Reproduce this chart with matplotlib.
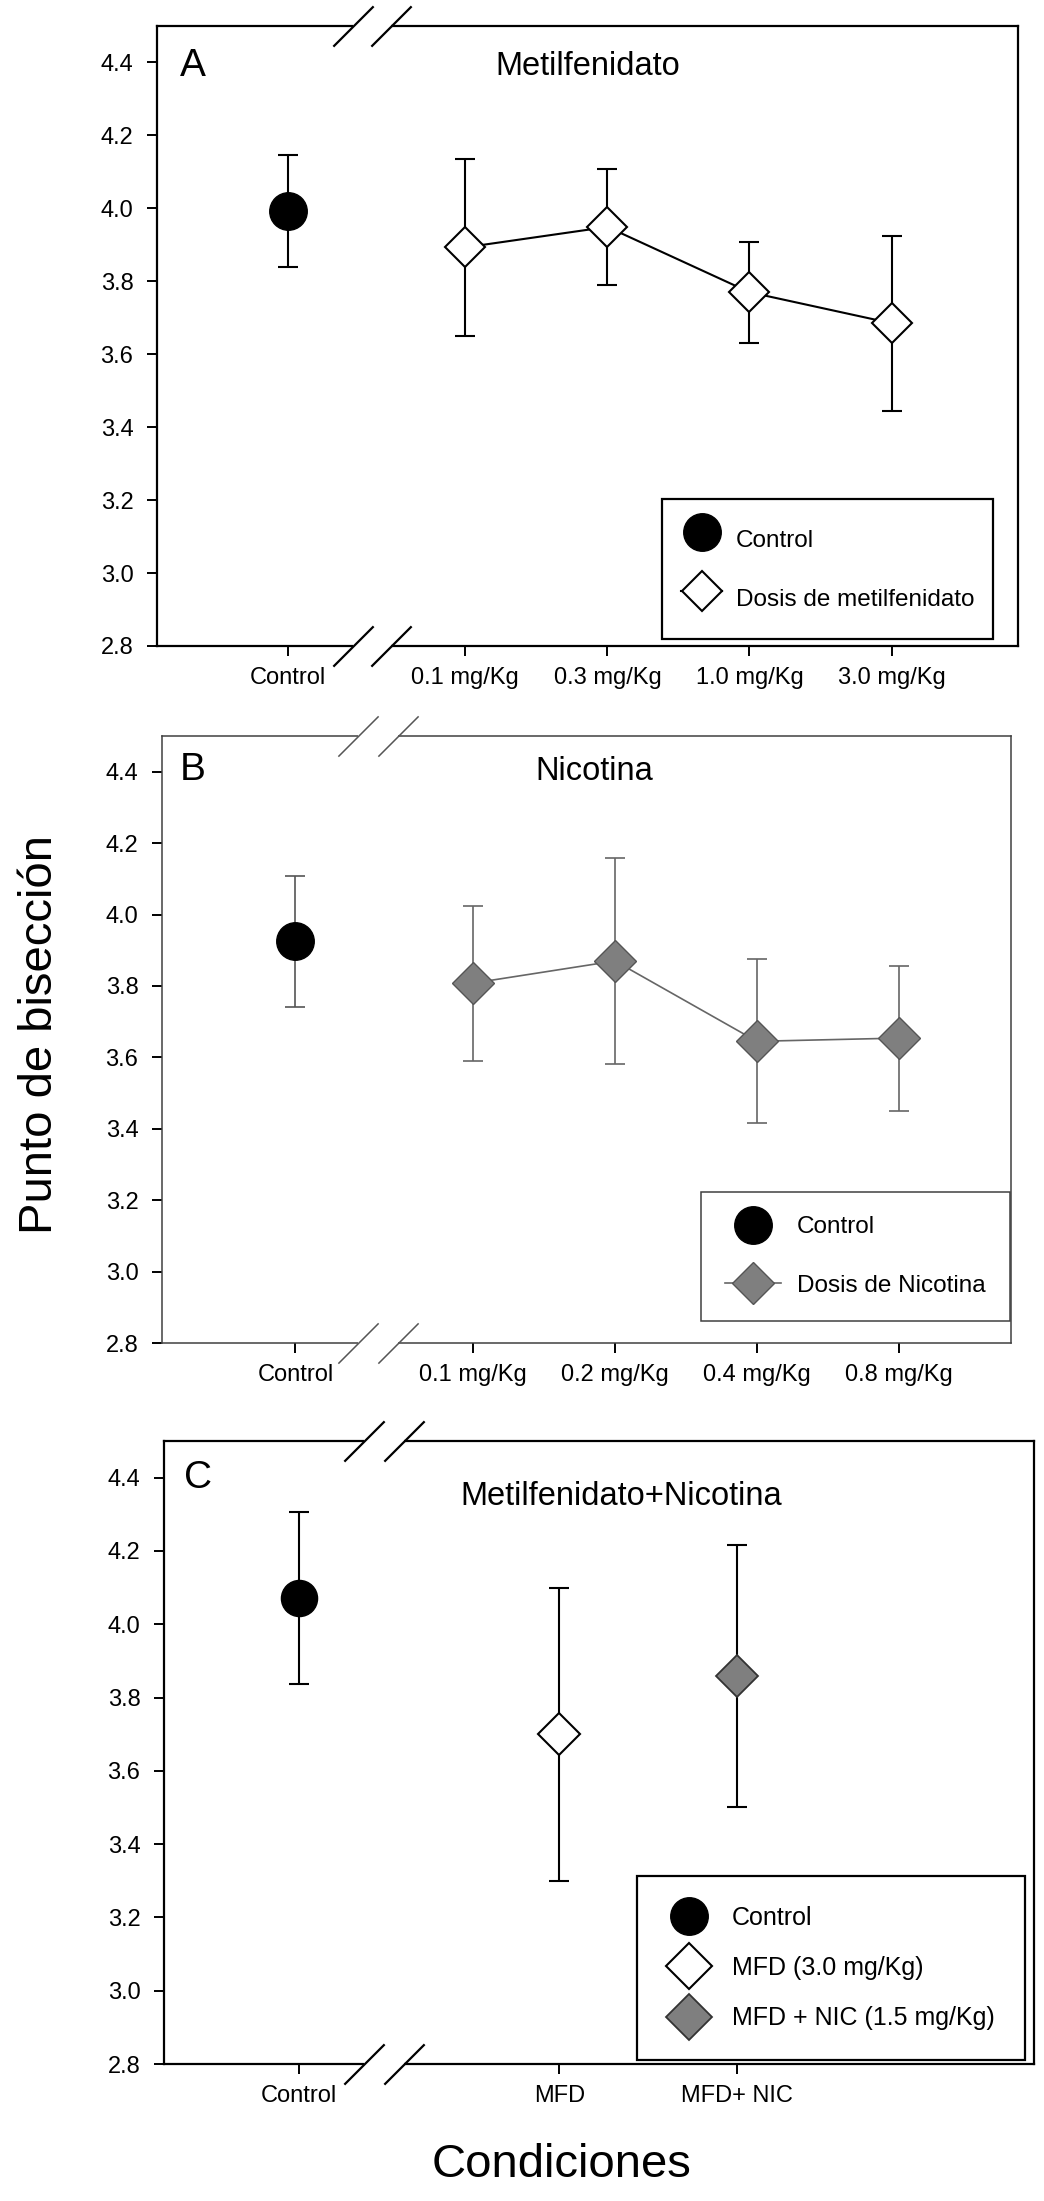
import numpy as np
import matplotlib
matplotlib.use("Agg")
import matplotlib.pyplot as plt
from matplotlib.lines import Line2D

plt.rcParams['font.family'] = ['Liberation Sans', 'DejaVu Sans']

# ---- data ----
# Panel A: metilfenidato
a_ctrl_mean, a_ctrl_err = 3.993, 0.154
a_labels = ['0.1 mg/Kg', '0.3 mg/Kg', '1.0 mg/Kg', '3.0 mg/Kg']
a_mean = [3.893, 3.949, 3.770, 3.685]
a_err = [0.242, 0.160, 0.138, 0.240]

# Panel B: nicotina
b_ctrl_mean, b_ctrl_err = 3.925, 0.184
b_labels = ['0.1 mg/Kg', '0.2 mg/Kg', '0.4 mg/Kg', '0.8 mg/Kg']
b_mean = [3.808, 3.870, 3.645, 3.654]
b_err = [0.217, 0.288, 0.230, 0.203]

# Panel C: metilfenidato + nicotina
c_labels = ['Control', 'MFD', 'MFD+ NIC']
c_mean = [4.071, 3.700, 3.858]
c_err = [0.235, 0.400, 0.357]

yticks = [2.8, 3.0, 3.2, 3.4, 3.6, 3.8, 4.0, 4.2, 4.4]

# ---- layout (x positions in units of one dose step) ----
ctrl_x = 0.0
dose_x = [1.25, 2.25, 3.25, 4.25]
c_x = [0.0, 1.83, 3.08]

TICK_FS = 17
LEG_FS = 17.5
TITLE_FS = 23.5
LETTER_FS = 28
GRAY = '#7f7f7f'

fig = plt.figure(figsize=(10.44, 22.01), dpi=100)
ax_a = fig.add_axes([0.1504, 0.7065, 0.8247, 0.2817])
ax_b = fig.add_axes([0.1552, 0.3898, 0.8132, 0.2758])
ax_c = fig.add_axes([0.1571, 0.0622, 0.8333, 0.2831])


def style_axes(ax, xlim, xt, xl, spine_col, spine_lw):
    ax.set_xlim(*xlim)
    ax.set_ylim(2.8, 4.5)
    ax.set_yticks(yticks)
    ax.set_yticklabels([f"{v:.1f}" for v in yticks])
    ax.set_xticks(xt)
    ax.set_xticklabels(xl)
    for s in ax.spines.values():
        s.set_color(spine_col)
        s.set_linewidth(spine_lw)
    ax.tick_params(axis='y', direction='out', length=7, width=1.4,
                   labelsize=TICK_FS, pad=10, colors='black')
    ax.tick_params(axis='x', direction='out', length=7, width=1.4,
                   labelsize=TICK_FS, pad=8, colors='black')
    ax.tick_params(top=False, right=False)


def axis_break(ax, x1, x2, col, lw):
    tr = ax.get_xaxis_transform()
    for yy in (0, 1):
        ax.plot([x1, x2], [yy, yy], color='white', lw=lw + 3, transform=tr,
                clip_on=False, zorder=5, solid_capstyle='butt')
        ax.plot([x1, x2], [yy, yy], ls='none', marker=[(-1, -1), (1, 1)],
                ms=29, mew=lw, mec=col, transform=tr, clip_on=False, zorder=6)


# ---- panel A ----
ax = ax_a
ax.errorbar([ctrl_x], [a_ctrl_mean], yerr=[a_ctrl_err], fmt='none',
            ecolor='black', elinewidth=1.5, capsize=7, capthick=1.5, zorder=2)
ax.plot([ctrl_x], [a_ctrl_mean], 'o', ms=27, color='black', zorder=4)
ax.errorbar(dose_x, a_mean, yerr=a_err, fmt='none', ecolor='black',
            elinewidth=1.5, capsize=7, capthick=1.5, zorder=2)
ax.plot(dose_x, a_mean, '-', color='black', lw=1.5, zorder=3)
ax.plot(dose_x, a_mean, 'D', ms=20, mfc='white', mec='black', mew=1.5, zorder=4)
style_axes(ax, (-0.92, 5.14), [ctrl_x] + dose_x, ['Control'] + a_labels, 'black', 1.6)
axis_break(ax, 0.46, 0.73, 'black', 1.6)
ax.text(0.027, 0.935, 'A', transform=ax.transAxes, fontsize=LETTER_FS, ha='left', va='center')
ax.text(0.50, 0.935, 'Metilfenidato', transform=ax.transAxes, fontsize=TITLE_FS,
        ha='center', va='center')
h = [Line2D([], [], ls='none', marker='o', ms=27, color='black'),
     Line2D([], [], color='black', lw=1.5, marker='D', ms=20, mfc='white', mec='black', mew=1.5)]
leg = ax.legend(h, ['Control', 'Dosis de metilfenidato'], loc='upper left',
                bbox_to_anchor=(0.5865, 0.237), borderaxespad=0, fontsize=LEG_FS,
                fancybox=False, edgecolor='black', framealpha=1, borderpad=0.78,
                handlelength=1.7, handleheight=2.33, labelspacing=0.66, handletextpad=0.55)
leg.get_frame().set_linewidth(1.6)

# ---- panel B ----
ax = ax_b
ax.errorbar([ctrl_x], [b_ctrl_mean], yerr=[b_ctrl_err], fmt='none',
            ecolor='#555555', elinewidth=1.2, capsize=7, capthick=1.2, zorder=2)
ax.plot([ctrl_x], [b_ctrl_mean], 'o', ms=27, color='black', zorder=4)
ax.errorbar(dose_x, b_mean, yerr=b_err, fmt='none', ecolor='#666666',
            elinewidth=1.2, capsize=7, capthick=1.2, zorder=2)
ax.plot(dose_x, b_mean, '-', color='#666666', lw=1.2, zorder=3)
ax.plot(dose_x, b_mean, 'D', ms=21, mfc=GRAY, mec='#555555', mew=1.0, zorder=4)
style_axes(ax, (-0.94, 5.04), [ctrl_x] + dose_x, ['Control'] + b_labels, '#404040', 1.1)
axis_break(ax, 0.44, 0.72, '#555555', 1.1)
ax.text(0.021, 0.944, 'B', transform=ax.transAxes, fontsize=LETTER_FS, ha='left', va='center')
ax.text(0.509, 0.941, 'Nicotina', transform=ax.transAxes, fontsize=TITLE_FS,
        ha='center', va='center')
h = [Line2D([], [], ls='none', marker='o', ms=27, color='black'),
     Line2D([], [], color='#666666', lw=1.2, marker='D', ms=21, mfc=GRAY, mec='#555555', mew=1.0)]
leg = ax.legend(h, ['Control', 'Dosis de Nicotina'], loc='upper left',
                bbox_to_anchor=(0.635, 0.249), borderaxespad=0, fontsize=LEG_FS,
                fancybox=False, edgecolor='#404040', framealpha=1, borderpad=1.0,
                handlelength=2.3, handleheight=0.7, labelspacing=1.5, handletextpad=0.65)
leg.get_frame().set_linewidth(1.1)

# ---- panel C ----
ax = ax_c
ax.errorbar(c_x, c_mean, yerr=c_err, fmt='none', ecolor='black',
            elinewidth=1.5, capsize=7, capthick=1.5, zorder=2)
ax.plot([c_x[0]], [c_mean[0]], 'o', ms=26, color='black', zorder=4)
ax.plot([c_x[1]], [c_mean[1]], 'D', ms=21, mfc='white', mec='black', mew=1.5, zorder=4)
ax.plot([c_x[2]], [c_mean[2]], 'D', ms=21, mfc=GRAY, mec='#333333', mew=1.3, zorder=4)
style_axes(ax, (-0.95, 5.17), c_x, c_labels, 'black', 1.6)
axis_break(ax, 0.46, 0.74, 'black', 1.6)
ax.text(0.023, 0.941, 'C', transform=ax.transAxes, fontsize=LETTER_FS, ha='left', va='center')
ax.text(0.526, 0.911, 'Metilfenidato+Nicotina', transform=ax.transAxes, fontsize=TITLE_FS,
        ha='center', va='center')
h = [Line2D([], [], ls='none', marker='o', ms=27, color='black'),
     Line2D([], [], color='black', lw=1.5, marker='D', ms=23, mfc='white', mec='black', mew=1.5),
     Line2D([], [], ls='none', marker='D', ms=23, mfc=GRAY, mec='#333333', mew=1.3)]
leg = ax.legend(h, ['Control', 'MFD (3.0 mg/Kg)', 'MFD + NIC (1.5 mg/Kg)'], loc='upper left',
                bbox_to_anchor=(0.544, 0.302), borderaxespad=0, fontsize=18,
                fancybox=False, edgecolor='black', framealpha=1, borderpad=1.2,
                handlelength=1.74, handleheight=0.7, labelspacing=1.05, handletextpad=0.85)
leg.get_frame().set_linewidth(1.6)

# shared axis titles
fig.text(40 / 1044, 1 - 1035 / 2201, 'Punto de bisección', rotation=90,
         fontsize=34, ha='center', va='center')
fig.text(562 / 1044, 1 - 2165 / 2201, 'Condiciones', fontsize=34,
         ha='center', va='center')

fig.savefig('out.png', dpi=100)
